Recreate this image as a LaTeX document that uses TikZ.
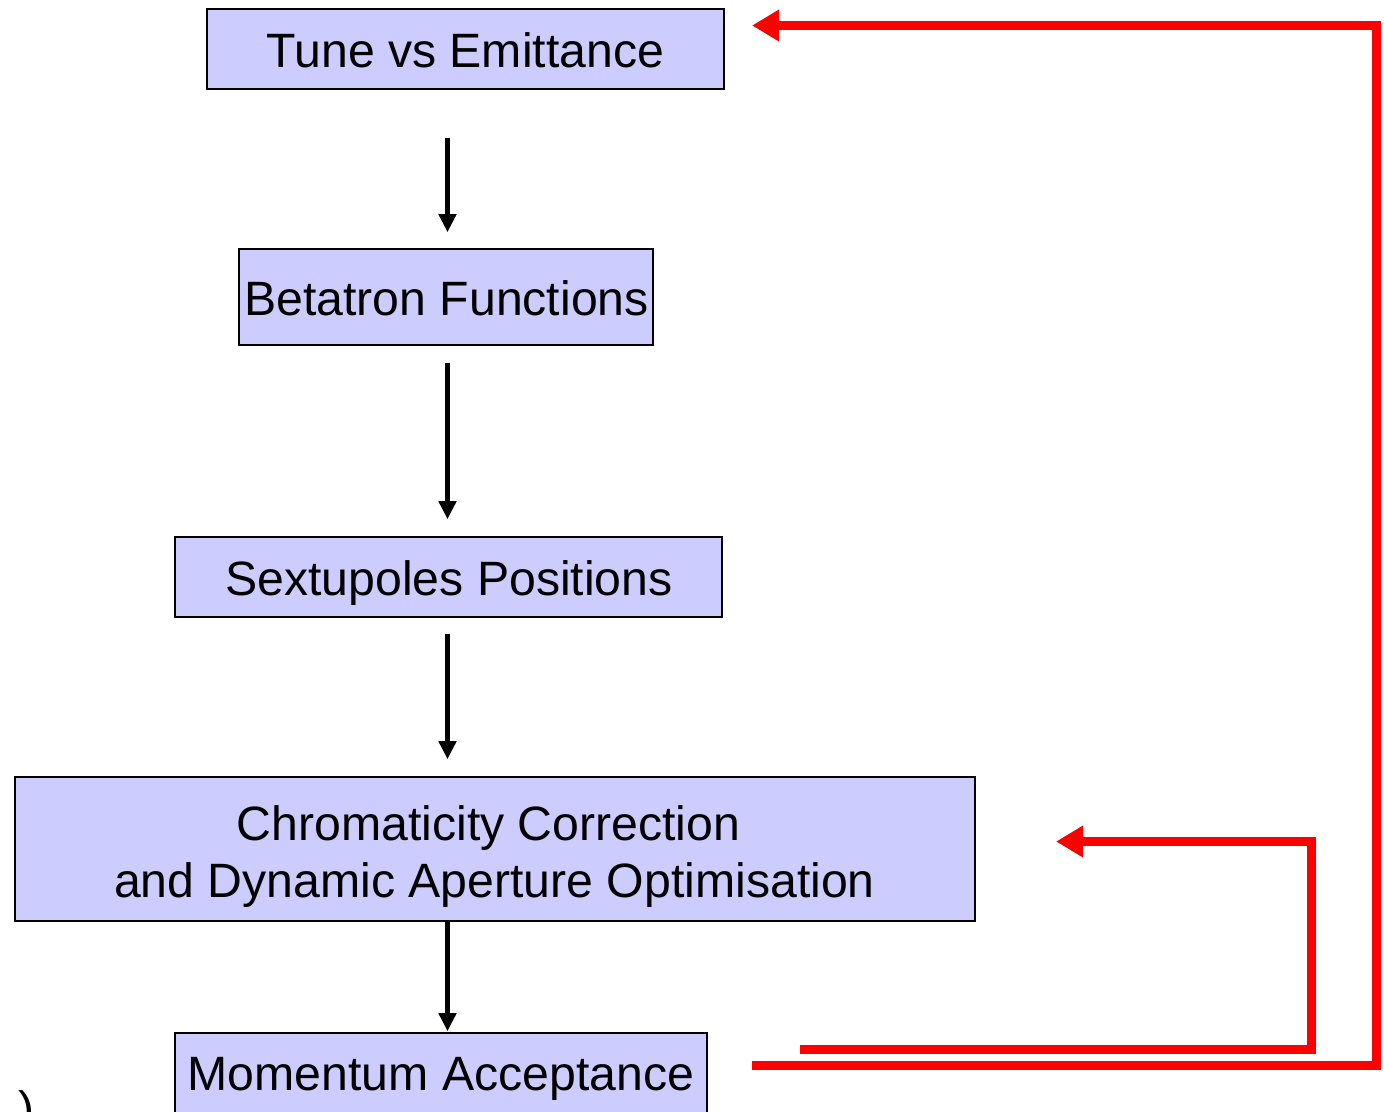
\documentclass[tikz,border=0pt]{standalone}
\usepackage{fontspec}
\setmainfont{Liberation Sans}
\usetikzlibrary{arrows.meta,calc}
\definecolor{boxfill}{RGB}{204,204,255}
\definecolor{fbred}{RGB}{255,0,0}
\begin{document}
\begin{tikzpicture}[x=1pt,y=-1pt,
  flowbox/.style={draw=black,line width=1.6pt,fill=boxfill,rectangle,inner sep=0pt},
  lbl/.style={anchor=base,inner sep=0pt,font=\fontsize{48.2}{57}\selectfont,align=center},
  blackarrow/.style={line width=4.5pt,draw=black,-{Triangle[length=18pt,width=17pt]}},
  redarrow/.style={line width=9pt,draw=fbred,-{Triangle[length=27pt,width=30pt]}}]
\useasboundingbox (0,0) rectangle (1384,1111);
\clip (0,0) rectangle (1384,1111);
% boxes
\node[flowbox,minimum width=517pt,minimum height=80pt] (b1) at (465.5,49) {};
\node[flowbox,minimum width=414pt,minimum height=96pt] (b2) at (446,297) {};
\node[flowbox,minimum width=547pt,minimum height=80pt] (b3) at (448.5,577) {};
\node[flowbox,minimum width=960pt,minimum height=144pt] (b4) at (495,849) {};
\node[flowbox,minimum width=532pt,minimum height=100pt] (b5) at (441,1083) {};
% labels
\node[lbl] (t1) at (465.5,67.5) {Tune vs Emittance};
\node[lbl] (t2) at (446.5,315.5) {Betatron Functions};
\node[lbl] (t3) at (449,595.5) {Sextupoles Positions};
\node[lbl] (t4a) at (488.5,840.5) {Chromaticity Correction};
\node[lbl] (t4b) at (494.5,897.5) {and Dynamic Aperture Optimisation};
\node[lbl] (t5) at (441,1090) {Momentum Acceptance};
\node[lbl,anchor=north] (frag) at (27,1090) {)};
% black arrows
\coordinate (ax) at (447.5,0);
\draw[blackarrow,shorten <=48pt,shorten >=16pt] (ax |- b1.south) -- (ax |- b2.north);
\draw[blackarrow,shorten <=17pt,shorten >=17pt] (ax |- b2.south) -- (ax |- b3.north);
\draw[blackarrow,shorten <=16pt,shorten >=17pt] (ax |- b3.south) -- (ax |- b4.north);
\draw[blackarrow,shorten >=1pt] (ax |- b4.south) -- (ax |- b5.north);
% red feedback loops
\coordinate (o1) at (752,1065.5);
\coordinate (o2) at (1376,1065.5);
\coordinate (o3) at (1376,25.5);
\coordinate (o4) at (752,25.5);
\draw[redarrow] (o1) -- (o2) -- (o3) -- (o4);
\coordinate (i1) at (800,1049.5);
\coordinate (i2) at (1311.5,1049.5);
\coordinate (i3) at (1311.5,841.5);
\coordinate (i4) at (1056,841.5);
\draw[redarrow] (i1) -- (i2) -- (i3) -- (i4);
\end{tikzpicture}
\end{document}
